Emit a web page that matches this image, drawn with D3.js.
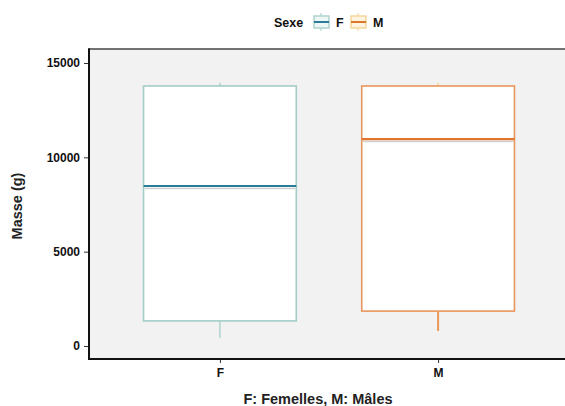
<!DOCTYPE html>
<html><head><meta charset="utf-8">
<script src="https://cdn.jsdelivr.net/npm/d3@7/dist/d3.min.js"></script>
<style>body{margin:0;background:#fff}svg{display:block}text{font-family:"Liberation Sans",Arial,sans-serif;font-weight:bold}</style>
</head><body>
<script>
const categories = ["F","M"];
const minVals = [430, 800];
const q1Vals = [1330, 1850];
const medianVals = [8480, 10970];
const q3Vals = [13780, 13780];
const maxVals = [13950, 13950];
const yTicks = [0, 5000, 10000, 15000];
const legendTitle = "Sexe";
const xTitle = "F: Femelles, M: Mâles";
const yTitle = "Masse (g)";

const W = 565, H = 406;
const boxStroke = {F:"#a3cdc7", M:"#e9965c"};
const medStroke = {F:"#2a7d98", M:"#e0762e"};
const keyStroke = {F:"#a3cdc7", M:"#f3d28f"};
const keyFill = {F:"#eef6f6", M:"#fdf4e0"};

const svg = d3.select("body").append("svg").attr("width", W).attr("height", H);
const pL = 89, pR = 569, pT = 49, pB = 359;

svg.append("rect").attr("x", pL).attr("y", pT).attr("width", pR - pL).attr("height", pB - pT).attr("fill", "#f2f2f2");

const x = d3.scalePoint().domain(categories).range([pL, pR]).padding(0.6);
const y = d3.scaleLinear().domain([0, 15000]).range([346, 63]);
const bw = x.step() * 0.7;

const data = categories.map((c, i) => ({c, min: minVals[i], q1: q1Vals[i], med: medianVals[i], q3: q3Vals[i], max: maxVals[i]}));

const g = svg.append("g");
data.forEach(d => {
  const cx = x(d.c);
  g.append("line").attr("x1", cx).attr("x2", cx).attr("y1", y(d.q1)).attr("y2", y(d.min)).attr("stroke", boxStroke[d.c]).attr("stroke-width", d.c === "M" ? 2 : 1.3);
  g.append("line").attr("x1", cx).attr("x2", cx).attr("y1", y(d.q3)).attr("y2", y(d.max)).attr("stroke", d.c === "M" ? "#f3d28f" : boxStroke[d.c]).attr("stroke-width", 1.3);
  g.append("rect").attr("x", cx - bw / 2).attr("y", y(d.q3)).attr("width", bw).attr("height", y(d.q1) - y(d.q3))
    .attr("fill", "#fff").attr("stroke", boxStroke[d.c]).attr("stroke-width", 1.6);
  g.append("line").attr("x1", cx - bw / 2 + 1).attr("x2", cx + bw / 2 - 1).attr("y1", y(d.med) + 2.5).attr("y2", y(d.med) + 2.5).attr("stroke", "#cfcfcf").attr("stroke-width", 1.5);
  g.append("line").attr("x1", cx - bw / 2).attr("x2", cx + bw / 2).attr("y1", y(d.med)).attr("y2", y(d.med)).attr("stroke", medStroke[d.c]).attr("stroke-width", 2.2);
});

svg.append("line").attr("x1", pL).attr("x2", W).attr("y1", pT).attr("y2", pT).attr("stroke", "#444").attr("stroke-width", 1.5);

const yAxis = d3.axisLeft(y).tickValues(yTicks).tickSize(4).tickPadding(4).tickFormat(d3.format("d"));
const ya = svg.append("g").attr("transform", `translate(${pL - 1},0)`).call(yAxis);
ya.select(".domain").remove();
ya.selectAll("line").attr("stroke", "#333");
ya.selectAll("text").attr("font-size", 12).attr("fill", "#111");
svg.append("line").attr("x1", pL).attr("x2", pL).attr("y1", pT - 0.75).attr("y2", pB + 1).attr("stroke", "#111").attr("stroke-width", 2);

const xAxis = d3.axisBottom(x).tickSize(4).tickPadding(5);
const xa = svg.append("g").attr("transform", `translate(0,${pB})`).call(xAxis);
xa.select(".domain").remove();
xa.selectAll("line").attr("stroke", "#333");
xa.selectAll("text").attr("font-size", 12).attr("fill", "#111");
svg.append("line").attr("x1", pL - 1).attr("x2", W).attr("y1", pB).attr("y2", pB).attr("stroke", "#111").attr("stroke-width", 2);

svg.append("text").attr("x", 318).attr("y", 404).attr("text-anchor", "middle").attr("font-size", 14.5).attr("fill", "#222").text(xTitle);
svg.append("text").attr("transform", "translate(22,206) rotate(-90)").attr("text-anchor", "middle").attr("font-size", 14.5).attr("fill", "#222").text(yTitle);

const lg = svg.append("g");
lg.append("text").attr("x", 274).attr("y", 27).attr("font-size", 12.5).attr("fill", "#111").text(legendTitle);
const keyX = [313, 350];
categories.forEach((c, i) => {
  const kx = keyX[i];
  lg.append("line").attr("x1", kx + 8).attr("x2", kx + 8).attr("y1", 13).attr("y2", 31).attr("stroke", keyStroke[c]).attr("stroke-width", 1);
  lg.append("rect").attr("x", kx + 1).attr("y", 16).attr("width", 15).attr("height", 12).attr("fill", keyFill[c]).attr("stroke", keyStroke[c]).attr("stroke-width", 1.3);
  lg.append("line").attr("x1", kx + 1).attr("x2", kx + 16).attr("y1", 22).attr("y2", 22).attr("stroke", medStroke[c]).attr("stroke-width", 2);
  lg.append("text").attr("x", kx + 23).attr("y", 27).attr("font-size", 12.5).attr("fill", "#111").text(c);
});
</script>
</body></html>
